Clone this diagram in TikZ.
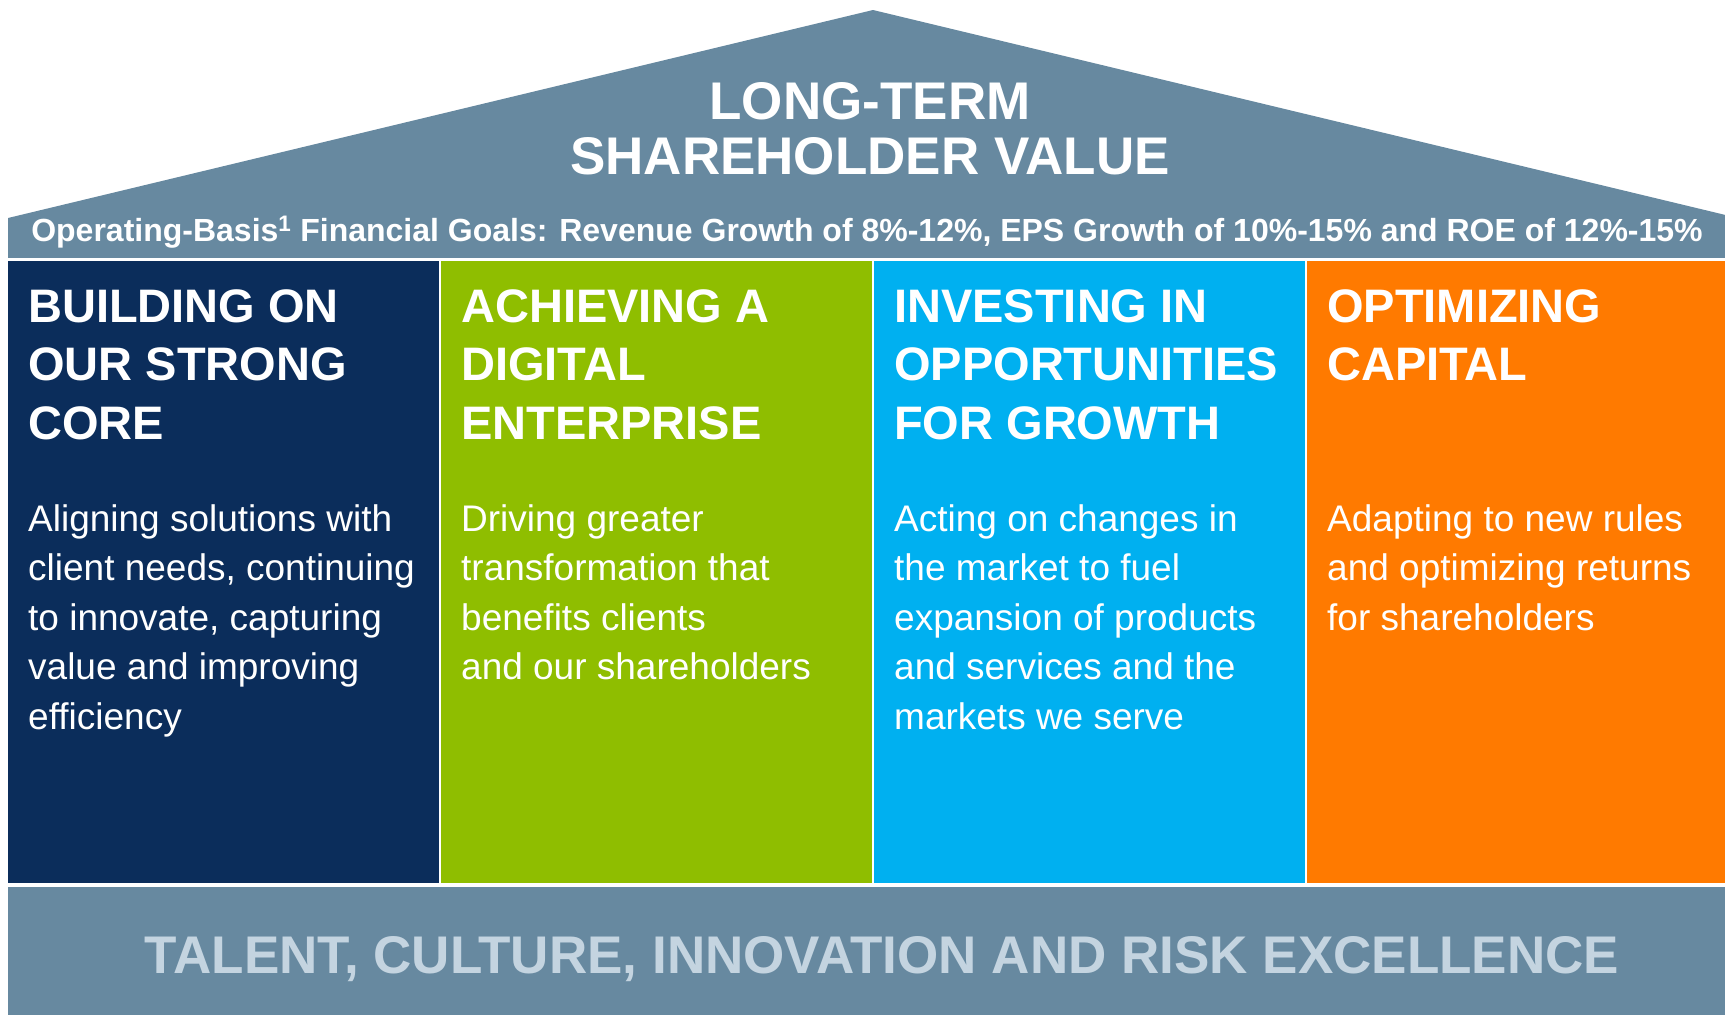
\documentclass[tikz,border=0pt]{standalone}
\usepackage{fontspec}
\setmainfont{Liberation Sans}
\definecolor{slate}{RGB}{103,137,160}
\definecolor{navy}{RGB}{11,45,91}
\definecolor{leaf}{RGB}{143,190,0}
\definecolor{sky}{RGB}{0,176,240}
\definecolor{tangerine}{RGB}{255,122,0}
\definecolor{pale}{RGB}{196,212,224}
\tikzset{
  pilar/.style={minimum width=431pt, minimum height=622pt, inner sep=0pt},
  strip/.style={fill=slate, minimum width=1730pt, inner sep=0pt},
  cabeza/.style={anchor=base west, align=left, inner sep=0pt, text=white,
    font=\bfseries\fontsize{47}{58.5}\selectfont},
  cuerpo/.style={anchor=base west, align=left, inner sep=0pt, text=white,
    font=\fontsize{37}{49.5}\selectfont}
}
\begin{document}
\begin{tikzpicture}[x=1pt,y=-1pt]
    \useasboundingbox (0,0) rectangle (1725,1015);
    % roof
    \fill[slate] (8,218) -- (873,10) -- (1738,218) -- cycle;
    \node[anchor=base, align=center, inner sep=0pt, text=white,
      font=\bfseries\fontsize{53}{55}\selectfont] (valor) at (870,174) {LONG-TERM\\SHAREHOLDER VALUE};
    \node[strip, minimum height=40pt] (metas) at (873,238) {};
    \node[anchor=base, inner sep=0pt, text=white, font=\bfseries\fontsize{32}{36}\selectfont]
      (metastxt) at (867,241) {Operating-Basis\textsuperscript{1} Financial Goals: Revenue Growth of 8\%-12\%, EPS Growth of 10\%-15\% and ROE of 12\%-15\%};
    % pillars (text nodes sit on the baseline of their last line)
    \node[pilar, fill=navy] (nucleo) at (223.5,572) {};
    \node[pilar, fill=leaf] (digital) at (656.5,572) {};
    \node[pilar, fill=sky] (inversion) at (1089.5,572) {};
    \node[pilar, fill=tangerine] (capital) at (1522.5,572) {};
    \node[cabeza] (nucleo-t) at (28,439) {BUILDING ON\\OUR STRONG\\CORE};
    \node[cabeza] (digital-t) at (461,439) {ACHIEVING A\\DIGITAL\\ENTERPRISE};
    \node[cabeza] (inversion-t) at (894,439) {INVESTING IN\\OPPORTUNITIES\\FOR GROWTH};
    \node[cabeza] (capital-t) at (1327,380.5) {OPTIMIZING\\CAPITAL};
    \node[cuerpo] (nucleo-b) at (28,729) {Aligning solutions with\\client needs, continuing\\to innovate, capturing\\value and improving\\efficiency};
    \node[cuerpo] (digital-b) at (461,679.5) {Driving greater\\transformation that\\benefits clients\\and our shareholders};
    \node[cuerpo] (inversion-b) at (894,729) {Acting on changes in\\the market to fuel\\expansion of products\\and services and the\\markets we serve};
    \node[cuerpo] (capital-b) at (1327,630) {Adapting to new rules\\and optimizing returns\\for shareholders};
    % foundation
    \node[strip, minimum height=130pt] (base) at (873,952) {};
    \node[anchor=base, inner sep=0pt, text=pale, font=\bfseries\fontsize{53}{55}\selectfont]
      (basetxt) at (882,973) {TALENT, CULTURE, INNOVATION AND RISK EXCELLENCE};
\end{tikzpicture}
\end{document}
